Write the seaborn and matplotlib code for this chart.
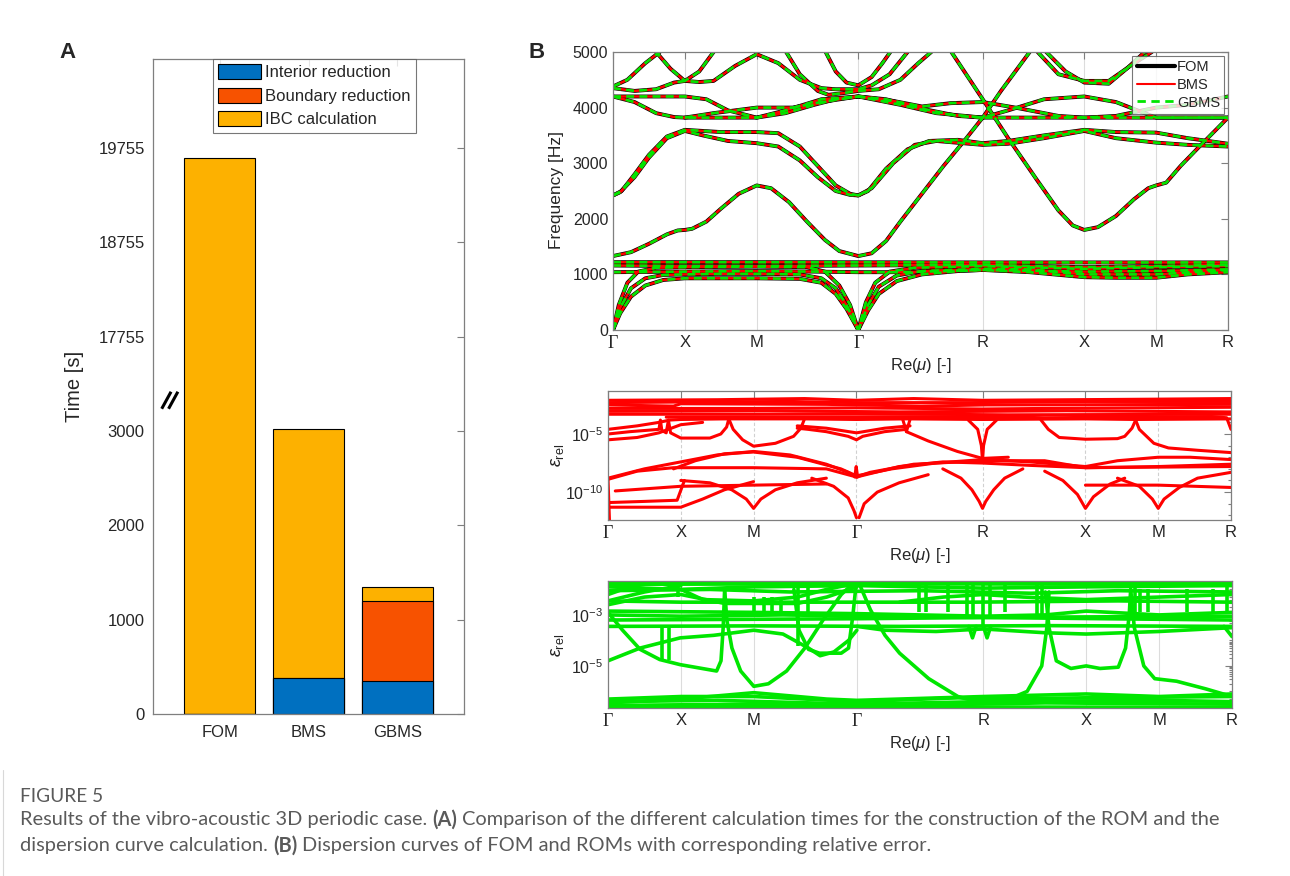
import numpy as np
import pandas as pd
import matplotlib
matplotlib.use("Agg")
import matplotlib.pyplot as plt
import seaborn as sns
from matplotlib.patches import Patch
from matplotlib.lines import Line2D
from matplotlib.ticker import FixedLocator, NullFormatter, LogLocator

W, H = 1290, 876

# ---------------- panel A: calculation times [s] ----------------
methods = ["FOM", "BMS", "GBMS"]
t_interior = [0, 385, 350]
t_boundary = [0, 0, 845]
t_ibc = [19654, 2640, 152]
time_ticks = [0, 1000, 2000, 3000, 17755, 18755, 19755]
break_at, break_gap = 3330, 13755
time_top = 20700

# ---------------- panel B: path and dispersion bands (k, f [Hz]) ----------------
sym_k = [0, 1, 2, 3.414, 5.146, 6.560, 7.560, 8.560]
sym_labels = ["Γ", "X", "M", "Γ", "R", "X", "M", "R"]

bands_acoustic = [
    [(0, 0), (0.1, 300), (0.25, 600), (0.45, 800), (0.7, 900), (1.0, 930), (1.5, 930), (2.0, 930),
     (2.6, 920), (2.9, 850), (3.1, 650), (3.25, 380), (3.414, 0), (3.55, 350), (3.7, 650), (3.95, 880),
     (4.3, 1000), (4.8, 1060), (5.146, 1080), (5.8, 1040), (6.56, 950), (7.0, 940), (7.56, 940),
     (8.0, 1000), (8.56, 1040)],
    [(0, 0), (0.1, 400), (0.25, 750), (0.45, 930), (0.7, 990), (1.0, 1000), (1.5, 1010), (2.0, 1010),
     (2.6, 1000), (2.9, 930), (3.1, 750), (3.25, 450), (3.414, 0), (3.55, 450), (3.7, 780), (3.95, 980),
     (4.3, 1060), (5.146, 1100), (5.8, 1090), (6.56, 1000), (7.56, 1000), (8.56, 1080)],
    [(0, 0), (0.08, 450), (0.2, 850), (0.35, 1050), (0.6, 1120), (1.0, 1130), (2.0, 1140), (2.7, 1130),
     (2.95, 1050), (3.15, 800), (3.3, 450), (3.414, 0), (3.52, 500), (3.65, 850), (3.85, 1050),
     (4.2, 1120), (5.146, 1150), (6.56, 1100), (7.56, 1130), (8.56, 1150)],
]
bands_flat = [
    [(0, 1220), (2.0, 1220), (5.146, 1215), (8.56, 1215)],
    [(0, 1160), (1.0, 1150), (2.0, 1150), (3.414, 1160), (5.146, 1170), (6.56, 1130), (7.56, 1150), (8.56, 1170)],
    [(0, 1040), (1.0, 1050), (2.0, 1060), (2.8, 1050), (3.414, 1040), (4.0, 1040), (4.6, 1060),
     (5.146, 1080), (6.56, 1050), (7.56, 1060), (8.56, 1090)],
]
bands_air = [
    [(0, 1330), (0.25, 1400), (0.5, 1550), (0.75, 1720), (0.9, 1790), (1.0, 1800), (1.1, 1820), (1.3, 1950),
     (1.5, 2180), (1.75, 2450), (2.0, 2600), (2.2, 2550), (2.45, 2300), (2.7, 1950), (2.95, 1620),
     (3.15, 1420), (3.414, 1330), (3.6, 1380), (3.8, 1600), (4.0, 1950), (4.3, 2450), (4.6, 2950),
     (4.9, 3420), (5.146, 3820), (5.4, 4300), (5.6, 4650), (5.8, 5000), (5.9, 5200)],
    [(4.6, 5200), (4.71, 5000), (5.146, 4150), (5.5, 3450), (5.9, 2700), (6.2, 2150), (6.4, 1880),
     (6.56, 1800), (6.75, 1850), (7.0, 2050), (7.25, 2350), (7.45, 2550), (7.56, 2600), (7.7, 2650),
     (7.9, 2950), (8.2, 3350), (8.56, 3820)],
]
bands_shear = [
    [(0, 2420), (0.12, 2500), (0.3, 2800), (0.5, 3150), (0.75, 3480), (1.0, 3600), (1.25, 3580), (1.5, 3560),
     (2.0, 3560), (2.3, 3540), (2.6, 3300), (2.85, 2950), (3.1, 2600), (3.3, 2450), (3.414, 2420),
     (3.55, 2500), (3.8, 2900), (4.1, 3250), (4.4, 3400), (4.8, 3420), (5.146, 3360), (5.5, 3400),
     (6.0, 3500), (6.56, 3600), (7.0, 3560), (7.56, 3550), (8.0, 3450), (8.56, 3350)],
    [(0, 2420), (0.1, 2480), (0.3, 2750), (0.5, 3100), (0.75, 3450), (1.0, 3580), (1.25, 3500), (1.6, 3400),
     (2.0, 3360), (2.3, 3300), (2.6, 3050), (2.85, 2750), (3.1, 2500), (3.3, 2430), (3.414, 2420),
     (3.6, 2550), (3.9, 3000), (4.2, 3330), (4.5, 3400), (5.146, 3330), (5.5, 3350), (6.0, 3450),
     (6.56, 3580), (7.0, 3450), (7.56, 3370), (8.0, 3330), (8.56, 3300)],
]
bands_4000 = [
    [(0, 4200), (0.5, 4200), (1.0, 4200), (1.3, 4150), (1.6, 3950), (2.0, 3820), (2.4, 3900), (2.8, 4050),
     (3.1, 4150), (3.414, 4200), (3.8, 4150), (4.3, 3980), (4.8, 3850), (5.146, 3820), (5.5, 3950),
     (6.0, 4150), (6.56, 4200), (7.0, 4100), (7.3, 3950), (7.56, 3820), (8.0, 3820), (8.56, 3820)],
    [(0, 4200), (0.3, 4100), (0.6, 3900), (0.85, 3830), (1.0, 3820), (1.5, 3820), (2.0, 3820), (2.4, 3950),
     (2.9, 4150), (3.414, 4200), (3.9, 4120), (4.3, 4020), (4.7, 4080), (5.146, 4100), (5.6, 4000),
     (6.2, 3850), (6.56, 3820), (7.56, 3820), (8.56, 3820)],
    [(1.0, 3820), (1.4, 3900), (2.0, 4000), (2.5, 4000), (2.9, 4100), (3.414, 4200), (4.0, 4050),
     (4.5, 3900), (5.146, 3820), (6.56, 3820), (7.0, 3850), (7.56, 4000), (8.0, 4050), (8.56, 4200)],
]
bands_upper = [
    [(0, 4350), (0.3, 4300), (0.6, 4330), (0.85, 4450), (1.0, 4480), (1.2, 4460), (1.4, 4480), (1.7, 4750),
     (2.0, 4960), (2.3, 4800), (2.6, 4500), (2.9, 4350), (3.1, 4330), (3.414, 4330), (3.6, 4400),
     (3.85, 4600), (4.1, 5000), (4.2, 5200)],
    [(2.85, 5200), (2.96, 5000), (3.1, 4650), (3.25, 4450), (3.414, 4400), (3.6, 4550), (3.75, 4800),
     (3.86, 5000), (3.95, 5200)],
    [(0, 4380), (0.2, 4500), (0.45, 4800), (0.65, 5000), (0.75, 5200)],
    [(0.45, 5200), (0.6, 5000), (0.8, 4700), (1.0, 4480), (1.2, 4650), (1.4, 5000), (1.5, 5200)],
    [(2.3, 5200), (2.41, 5000), (2.6, 4600), (2.85, 4300), (3.0, 4230), (3.2, 4260), (3.414, 4300),
     (3.7, 4330), (4.0, 4500), (4.25, 4800), (4.43, 5000), (4.5, 5200)],
    [(5.85, 5200), (5.91, 5000), (6.2, 4600), (6.56, 4480), (6.9, 4480), (7.2, 4750), (7.5, 5000), (7.6, 5200)],
    [(5.95, 5200), (6.03, 5000), (6.3, 4650), (6.56, 4450), (6.9, 4430), (7.15, 4700), (7.4, 5000), (7.5, 5200)],
]

# ---------------- relative errors, log10(eps_rel) ----------------
bms_err_top = [
    [(0, -2.1), (1.5, -2.05), (2.7, -1.95), (3.414, -2.1), (4.2, -1.95), (5.146, -2.1), (7.56, -2.0), (8.56, -1.95)],
    [(0, -2.3), (1.0, -2.25), (2.5, -2.2), (3.414, -2.3), (5.0, -2.3), (6.56, -2.2), (8.56, -2.2)],
    [(0, -2.5), (0.9, -2.6), (1.0, -2.4), (3.0, -2.45), (4.3, -2.6), (5.2, -2.5), (8.56, -2.45)],
    [(0, -2.8), (2.0, -2.8), (3.414, -2.75), (5.146, -2.85), (6.0, -2.8), (8.56, -2.7)],
    [(0, -3.05), (2.2, -3.0), (4.0, -3.1), (6.3, -3.0), (8.56, -3.1)],
    [(0, -3.3), (2.0, -3.3), (3.414, -3.25), (5.5, -3.35), (8.56, -3.3)],
    [(0.8, -3.55), (5.146, -3.5), (6.0, -3.6), (8.3, -3.5), (8.5, -3.6), (8.56, -4.6)],
]
bms_err_mid = [
    [(0, -4.6), (0.4, -4.3), (0.7, -4.0), (0.85, -3.8), (1.0, -3.75), (1.6, -3.7), (2.7, -3.7), (3.414, -3.75),
     (4.1, -3.7), (5.146, -3.75), (6.56, -3.7), (7.25, -3.75), (8.56, -3.7)],
    [(0, -5.0), (0.3, -4.8), (0.7, -4.6), (0.72, -3.8), (0.74, -4.7), (0.8, -4.9), (0.83, -3.8), (0.86, -4.9),
     (1.0, -5.35), (1.4, -5.35), (1.55, -5.0), (1.63, -4.4), (1.66, -3.7)],
    [(0, -5.5), (0.4, -5.3), (0.7, -4.9), (1.0, -4.2), (1.3, -4.0)],
    [(1.66, -3.7), (1.72, -4.6), (1.85, -5.5), (2.0, -6.05), (2.3, -5.8), (2.55, -5.2), (2.65, -4.5), (2.7, -3.7)],
    [(2.6, -4.5), (2.75, -4.6), (3.0, -4.8), (3.3, -5.2), (3.414, -5.5), (3.5, -5.2), (3.8, -4.8), (4.1, -4.6)],
    [(2.6, -4.3), (3.0, -4.5), (3.414, -4.9), (3.8, -4.5), (4.15, -4.3)],
    [(4.05, -3.75), (4.1, -4.8), (4.15, -3.75)],
    [(4.1, -4.8), (4.4, -5.6), (4.8, -6.5), (5.146, -7.1), (5.5, -7.0)],
    [(4.95, -3.8), (5.08, -4.6), (5.13, -6.0), (5.146, -7.3), (5.16, -6.0), (5.21, -4.6), (5.34, -3.8)],
    [(5.95, -3.8), (6.05, -4.6), (6.2, -5.3), (6.56, -5.45), (7.0, -5.4), (7.1, -5.2), (7.2, -4.5), (7.25, -3.8)],
    [(7.25, -3.8), (7.3, -4.6), (7.5, -5.8), (7.7, -6.2), (8.1, -6.4), (8.56, -6.6)],
]
bms_err_low = [
    [(0, -8.8), (0.5, -8.0), (1.0, -7.4), (1.5, -6.8), (2.0, -6.5), (2.5, -6.8), (3.0, -7.6), (3.3, -8.3), (3.414, -8.7)],
    [(0.9, -8.0), (1.2, -7.3), (1.6, -6.7), (2.0, -6.55), (2.6, -7.0), (3.2, -8.0), (3.414, -8.6)],
    [(0, -8.9), (0.4, -8.2), (0.9, -7.9), (2.0, -7.9), (3.0, -8.0), (3.414, -8.7), (3.6, -8.3), (4.2, -7.6),
     (5.146, -7.3), (6.0, -7.3), (6.56, -7.9), (8.56, -7.8)],
    [(3.414, -8.6), (3.9, -8.0), (4.5, -7.5), (5.146, -7.2), (5.8, -7.4), (6.56, -7.8), (7.0, -7.3),
     (7.56, -7.0), (8.0, -7.0), (8.56, -7.2)],
    [(3.414, -8.7), (4.0, -7.8), (4.6, -7.4), (5.146, -7.5), (5.8, -7.7), (6.56, -7.9), (7.56, -7.8), (8.56, -7.6)],
    [(1.0, -9.0), (1.4, -9.2), (1.7, -9.8), (1.9, -10.6), (2.0, -11.4), (2.1, -10.6), (2.3, -9.8), (2.6, -9.2), (3.0, -8.8)],
    [(2.8, -8.8), (3.1, -9.5), (3.3, -10.5), (3.38, -11.6), (3.414, -12.2)],
    [(3.45, -12.2), (3.52, -11.0), (3.7, -10.0), (4.0, -9.2), (4.4, -8.5)],
    [(4.6, -8.0), (4.85, -8.8), (5.0, -9.8), (5.1, -10.8), (5.146, -11.4), (5.19, -10.8), (5.3, -9.8),
     (5.45, -8.8), (5.7, -8.0)],
    [(6.0, -8.2), (6.25, -9.0), (6.45, -10.2), (6.56, -11.4), (6.67, -10.4), (6.9, -9.3), (7.1, -8.8)],
    [(7.0, -8.8), (7.3, -9.5), (7.48, -10.6), (7.56, -11.4), (7.64, -10.6), (7.85, -9.6), (8.1, -8.8), (8.56, -8.3)],
    [(0.1, -9.9), (1.0, -9.5), (2.0, -9.4), (3.0, -9.3)],
    [(6.56, -9.4), (7.56, -9.4), (8.56, -9.6)],
    [(0, -10.9), (0.5, -10.8), (0.95, -10.7), (1.05, -9.0)],
    [(0, -11.3), (0.5, -11.3), (1.0, -11.3), (1.3, -10.6), (1.6, -9.8), (2.0, -9.1)],
    [(0.0, -8.8), (0.02, -12.4)],
    [(3.39, -8.7), (3.41, -7.8), (3.43, -8.7)],
]

gbms_err_top = [
    [(0, -1.72), (8.56, -1.72)],
    [(0, -1.8), (3.414, -1.78), (8.56, -1.8)],
    [(0, -1.9), (1.0, -2.0), (2.0, -1.9), (3.414, -1.85), (5.146, -1.95), (6.56, -1.9), (8.56, -1.85)],
    [(0, -2.05), (1.4, -2.0), (2.5, -2.1), (4.3, -2.05), (5.8, -2.15), (7.0, -2.05), (8.56, -2.1)],
    [(0, -2.45), (1.0, -2.5), (2.0, -2.5), (3.414, -2.5), (5.0, -2.5), (7.0, -2.45), (8.56, -2.5)],
    [(0, -2.6), (0.5, -2.3), (1.0, -2.2), (1.6, -2.55), (2.6, -2.55), (3.0, -2.3), (3.414, -1.9)],
    [(0, -2.85), (2.0, -2.9), (3.414, -2.95), (5.146, -3.05), (6.0, -3.0), (6.56, -2.85), (7.56, -3.0), (8.56, -2.9)],
    [(0, -3.0), (1.0, -3.05), (2.4, -3.0), (5.0, -3.1), (8.56, -3.05)],
    [(0, -3.2), (3.414, -3.15), (5.146, -3.1), (8.56, -3.2)],
    [(0, -3.45), (2.0, -3.43), (4.0, -3.45), (6.0, -3.42), (8.56, -3.45)],
    [(0, -2.2), (0.3, -1.9), (0.6, -1.75)],
    [(0, -2.45), (0.5, -2.1), (1.0, -1.85)],
    [(1.0, -2.0), (1.3, -2.4), (2.0, -2.45), (2.6, -2.3), (3.0, -2.0), (3.414, -1.75)],
    [(4.0, -2.5), (4.6, -2.3), (5.146, -2.2), (5.7, -2.3), (6.56, -2.4), (7.56, -2.3), (8.56, -2.2)],
]
gbms_err_arcs = [
    [(0, -2.9), (0.2, -3.6), (0.44, -4.35), (0.71, -4.75), (0.99, -4.95), (1.49, -5.2), (1.55, -4.8),
     (1.58, -3.5), (1.6, -2.0)],
    [(0, -4.8), (0.44, -4.3), (0.99, -3.9), (1.45, -3.8), (2.0, -3.6), (2.4, -3.75), (2.75, -4.3),
     (2.91, -4.6), (3.1, -4.45), (3.3, -4.0), (3.414, -3.6)],
    [(1.6, -2.0), (1.63, -3.2), (1.7, -4.3), (1.82, -5.2), (2.0, -5.8), (2.2, -5.7), (2.45, -5.2), (2.7, -4.3),
     (2.95, -3.2), (3.2, -2.2), (3.35, -1.8)],
    [(3.45, -1.8), (3.6, -2.8), (3.8, -3.8), (4.0, -4.5), (4.4, -5.5), (4.8, -6.2), (5.0, -6.35)],
    [(5.5, -6.3), (5.75, -6.0), (5.95, -5.0), (6.02, -3.5), (6.05, -2.1)],
    [(6.0, -2.1), (6.05, -3.5), (6.15, -4.8), (6.35, -5.1), (6.56, -5.0), (6.75, -5.1), (7.0, -5.05),
     (7.1, -4.3), (7.15, -3.0), (7.17, -2.0)],
    [(7.17, -2.0), (7.22, -3.5), (7.35, -5.0), (7.5, -5.5), (7.8, -5.6), (8.2, -5.9), (8.56, -6.2)],
    [(2.55, -2.0), (2.62, -3.6), (2.75, -4.35), (2.9, -4.5), (3.2, -4.5), (3.3, -4.3), (3.36, -3.0), (3.4, -1.9)],
    [(4.95, -3.45), (5.0, -3.9), (5.05, -3.45)],
    [(5.15, -3.45), (5.2, -3.9), (5.25, -3.45)],
    [(8.45, -3.45), (8.56, -3.85)],
    [(3.414, -3.45), (3.8, -3.6), (4.5, -3.65), (5.146, -3.55), (6.0, -3.7), (6.56, -3.75), (7.56, -3.65), (8.56, -3.5)],
]
gbms_err_bottom = [
    [(0, -6.45), (1.0, -6.3), (2.0, -6.05), (3.0, -6.3), (3.414, -6.35), (5.146, -6.2), (6.56, -6.1), (7.56, -6.2), (8.56, -6.1)],
    [(0, -6.3), (1.0, -6.2), (2.0, -6.2), (3.414, -6.4), (4.8, -6.25), (5.146, -6.3), (6.56, -6.25), (8.56, -6.2)],
    [(0, -6.55), (2.0, -6.5), (4.0, -6.55), (6.0, -6.45), (8.56, -6.5)],
    [(0, -6.4), (1.5, -6.35), (3.414, -6.5), (5.146, -6.4), (7.56, -6.35), (8.56, -6.4)],
    [(0, -6.6), (8.56, -6.62)],
]
gbms_spike_k = [0.74, 0.83, 0.96, 2.0, 2.14, 2.25, 2.37, 2.6, 2.74, 4.26, 4.36, 4.67, 4.92, 5.01, 5.15,
                5.24, 5.45, 5.88, 5.95, 7.23, 7.3, 7.41, 7.94, 8.3, 8.49]
gbms_spike_top = [-3.5, -3.5, -1.7, -2.3, -2.3, -2.3, -2.3, -1.75, -1.75, -1.75, -1.75, -1.75, -1.75,
                  -1.75, -1.72, -1.75, -1.75, -1.75, -1.75, -1.75, -2.0, -2.0, -2.0, -2.0, -1.75]
gbms_spike_bot = [-4.75, -4.75, -2.3, -2.95, -2.95, -2.95, -2.95, -4.2, -3.0, -2.9, -2.9, -2.9, -3.0,
                  -3.1, -3.4, -3.1, -2.9, -3.0, -3.0, -3.0, -2.9, -2.9, -2.9, -2.9, -2.9]

# ---------------- style ----------------
c_int, c_bnd, c_ibc = "#0070c0", "#f75200", "#fdb100"
c_fom, c_bms, c_gbms = "black", "#ff0000", "#00e600"
spine_c, text_c = "#7f7f7f", "#262626"

sns.set_theme(style="white")
plt.rcParams["font.family"] = ["Liberation Sans", "DejaVu Sans"]
plt.rcParams["mathtext.fontset"] = "custom"
plt.rcParams["mathtext.rm"] = "Liberation Sans"
plt.rcParams["mathtext.it"] = "Liberation Sans:italic"
plt.rcParams["mathtext.fallback"] = "stix"


def fx(px):
    return px / W


def fy(py):
    return 1 - py / H


def box(l, t, r, b):
    return [fx(l), fy(b), (r - l) / W, (b - t) / H]


def to_frame(curves, log=False):
    rows = []
    for i, c in enumerate(curves):
        for k, v in c:
            rows.append((i, k, 10.0 ** v if log else v))
    return pd.DataFrame(rows, columns=["curve", "k", "v"])


def style_axes(ax, size=11.5):
    for s in ax.spines.values():
        s.set_color(spine_c)
        s.set_linewidth(0.9)
    ax.tick_params(which="both", direction="in", top=True, right=True, color=spine_c,
                   labelcolor=text_c, labelsize=size, width=0.8)
    ax.tick_params(which="major", length=5)
    ax.tick_params(which="minor", length=2.5)


def path_axis(ax, lab_pad):
    ax.set_xlim(sym_k[0], sym_k[-1])
    ax.set_xticks(sym_k)
    ax.set_xticklabels(sym_labels)
    ax.tick_params(axis="x", labelsize=12)
    for lab in ax.get_xticklabels():
        if lab.get_text() == "Γ":
            lab.set_fontfamily("Liberation Serif")
            lab.set_fontsize(13)
    ax.grid(axis="x", color="#dcdcdc", lw=0.8)
    ax.set_xlabel(r"Re($\mu$) [-]", fontsize=12, color=text_c, labelpad=lab_pad)
    ax.set_ylabel("")


fig = plt.figure(figsize=(W / 100, H / 100), dpi=100)
fig.patch.set_facecolor("white")

# ================= panel A =================
axA = fig.add_axes(box(153, 59, 464, 714))
times = pd.DataFrame({"method": methods, "interior": t_interior, "boundary": t_boundary, "ibc": t_ibc})
times["upto_boundary"] = times["interior"] + times["boundary"]
times["total"] = times["upto_boundary"] + times["ibc"]
for col, c in [("total", c_ibc), ("upto_boundary", c_bnd), ("interior", c_int)]:
    sns.barplot(data=times, x="method", y=col, color=c, saturation=1, width=0.8,
                edgecolor="black", linewidth=0.8, ax=axA)


def fwd(v):
    v = np.asarray(v, dtype=float)
    return np.where(v <= break_at, v, np.where(v >= break_at + break_gap, v - break_gap, break_at))


def inv(d):
    d = np.asarray(d, dtype=float)
    return np.where(d <= break_at, d, d + break_gap)


axA.set_yscale("function", functions=(fwd, inv))
axA.set_ylim(0, time_top)
axA.set_xlim(-0.75, 2.75)
axA.yaxis.set_major_locator(FixedLocator(time_ticks))
axA.set_yticklabels([str(t) for t in time_ticks])
axA.yaxis.set_minor_locator(FixedLocator([]))
axA.set_xlabel("")
axA.set_ylabel("")
style_axes(axA, size=12)
axA.tick_params(axis="x", pad=8)
axA.tick_params(axis="y", pad=6)

# axis-break marks
for dx in (0.0, 0.022):
    axA.plot([0.028 + dx, 0.058 + dx], [0.466, 0.492], transform=axA.transAxes,
             color="black", lw=2.2, clip_on=False, solid_capstyle="butt", zorder=5)

handles = [Patch(facecolor=c_int, edgecolor="black", lw=0.8, label="Interior reduction"),
           Patch(facecolor=c_bnd, edgecolor="black", lw=0.8, label="Boundary reduction"),
           Patch(facecolor=c_ibc, edgecolor="black", lw=0.8, label="IBC calculation")]
legA = axA.legend(handles=handles, loc="upper center", bbox_to_anchor=(0.519, 1.0), borderaxespad=0,
                  fontsize=12, frameon=True, fancybox=False, handlelength=2.6, handleheight=1.0,
                  handletextpad=0.25, labelspacing=0.45, borderpad=0.3)
legA.get_frame().set_edgecolor("#555555")
legA.get_frame().set_linewidth(0.8)

fig.text(fx(75), fy(386), "Time [s]", rotation=90, ha="center", va="center", fontsize=14.5, color=text_c)
fig.text(fx(68), fy(53), "A", ha="center", va="center", fontsize=16, weight="bold")

# ================= panel B: dispersion =================
axB1 = fig.add_axes(box(613, 52, 1228, 330))
bands = bands_acoustic + bands_flat + bands_air + bands_shear + bands_4000 + bands_upper
bdf = to_frame(bands)
sns.lineplot(data=bdf, x="k", y="v", units="curve", estimator=None, sort=False, color=c_fom,
             lw=2.8, ax=axB1, legend=False)
sns.lineplot(data=bdf, x="k", y="v", units="curve", estimator=None, sort=False, color=c_bms,
             lw=1.8, ax=axB1, legend=False)
sns.lineplot(data=bdf, x="k", y="v", units="curve", estimator=None, sort=False, color=c_gbms,
             lw=1.9, linestyle=(0, (3, 2)), ax=axB1, legend=False)
axB1.set_ylim(0, 5000)
axB1.set_yticks([0, 1000, 2000, 3000, 4000, 5000])
style_axes(axB1)
path_axis(axB1, 3)
fig.text(fx(557), fy(190), "Frequency [Hz]", rotation=90, ha="center", va="center", fontsize=12.5, color=text_c)
legB = axB1.legend(handles=[Line2D([], [], color=c_fom, lw=3, label="FOM"),
                            Line2D([], [], color=c_bms, lw=1.5, label="BMS"),
                            Line2D([], [], color=c_gbms, lw=2, ls=(0, (3, 2)), label="GBMS")],
                   loc="upper right", bbox_to_anchor=(0.994, 0.986), borderaxespad=0, fontsize=10.5,
                   frameon=True, fancybox=False, handlelength=2.6, handletextpad=0.15,
                   labelspacing=0.25, borderpad=0.3)
legB.get_frame().set_edgecolor("#555555")
legB.get_frame().set_linewidth(0.8)
fig.text(fx(537), fy(52), "B", ha="center", va="center", fontsize=16, weight="bold")

# ================= panel B: BMS error =================
axB2 = fig.add_axes(box(608, 391, 1231, 520))
axB2.set_yscale("log")
edf = to_frame(bms_err_top + bms_err_mid + bms_err_low, log=True)
sns.lineplot(data=edf, x="k", y="v", units="curve", estimator=None, sort=False, color=c_bms,
             lw=2.2, ax=axB2, legend=False)
axB2.set_ylim(10 ** -12.4, 10 ** -1.3)
axB2.yaxis.set_major_locator(FixedLocator([1e-10, 1e-5]))
axB2.set_yticklabels([r"$10^{-10}$", r"$10^{-5}$"])
axB2.yaxis.set_minor_locator(FixedLocator(10.0 ** np.arange(-12, -1)))
axB2.yaxis.set_minor_formatter(NullFormatter())
style_axes(axB2)
path_axis(axB2, 3)
axB2.grid(axis="x", color="#d0d0d0", lw=0.8, ls=(0, (3, 2)))
fig.text(fx(557), fy(455), r"$\epsilon_{\mathrm{rel}}$", rotation=90, ha="center", va="center",
         fontsize=13, color=text_c)

# ================= panel B: GBMS error =================
axB3 = fig.add_axes(box(608, 581, 1232, 708))
axB3.set_yscale("log")
gdf = to_frame(gbms_err_top + gbms_err_arcs + gbms_err_bottom, log=True)
sns.lineplot(data=gdf, x="k", y="v", units="curve", estimator=None, sort=False, color=c_gbms,
             lw=2.6, ax=axB3, legend=False)
axB3.vlines(gbms_spike_k, 10.0 ** np.array(gbms_spike_bot), 10.0 ** np.array(gbms_spike_top),
            color=c_gbms, lw=2.6)
axB3.set_ylim(10 ** -6.65, 10 ** -1.67)
axB3.yaxis.set_major_locator(FixedLocator([1e-5, 1e-3]))
axB3.set_yticklabels([r"$10^{-5}$", r"$10^{-3}$"])
axB3.yaxis.set_minor_locator(LogLocator(base=10, subs=np.arange(1, 10), numticks=50))
axB3.yaxis.set_minor_formatter(NullFormatter())
style_axes(axB3)
path_axis(axB3, 3)
fig.text(fx(557), fy(645), r"$\epsilon_{\mathrm{rel}}$", rotation=90, ha="center", va="center",
         fontsize=13, color=text_c)

# ================= caption =================
cap_c = "#5a5a5a"
cap_font = ["Lato", "DejaVu Sans"]
renderer = fig.canvas.get_renderer()


def draw_runs(runs, x0, y0, size):
    made = []
    probe = fig.text(0, 0, "x x", fontsize=size, family=cap_font)
    probe2 = fig.text(0, 0, "xx", fontsize=size, family=cap_font)
    gap = probe.get_window_extent(renderer).width - probe2.get_window_extent(renderer).width
    probe.remove()
    probe2.remove()
    x = x0
    for txt, bold in runs:
        t = fig.text(fx(x), fy(y0), txt, fontsize=size, family=cap_font, color=cap_c,
                     fontweight="bold" if bold else "normal", ha="left", va="center")
        made.append(t)
        x = t.get_window_extent(renderer).x1 + gap
    return x - gap, made


line1 = [("Results of the vibro-acoustic 3D periodic case.", False), ("(A)", True),
         ("Comparison of the different calculation times for the construction of the ROM and the", False)]
line2 = [("dispersion curve calculation.", False), ("(B)", True),
         ("Dispersion curves of FOM and ROMs with corresponding relative error.", False)]
end, tmp = draw_runs(line1, 20, 820, 12)
for t in tmp:
    t.remove()
cap_size = 12 * (1215 - 20) / (end - 20)
draw_runs(line1, 20, 820, cap_size)
draw_runs(line2, 20, 846, cap_size)
fig.text(fx(20), fy(797), "FIGURE 5", fontsize=cap_size * 0.95, family=cap_font, color=cap_c,
         ha="left", va="center")
fig.add_artist(Line2D([fx(3), fx(3)], [fy(770), fy(876)], color="#d8d8d8", lw=0.8))

fig.savefig("out.png", dpi=100, facecolor="white")
